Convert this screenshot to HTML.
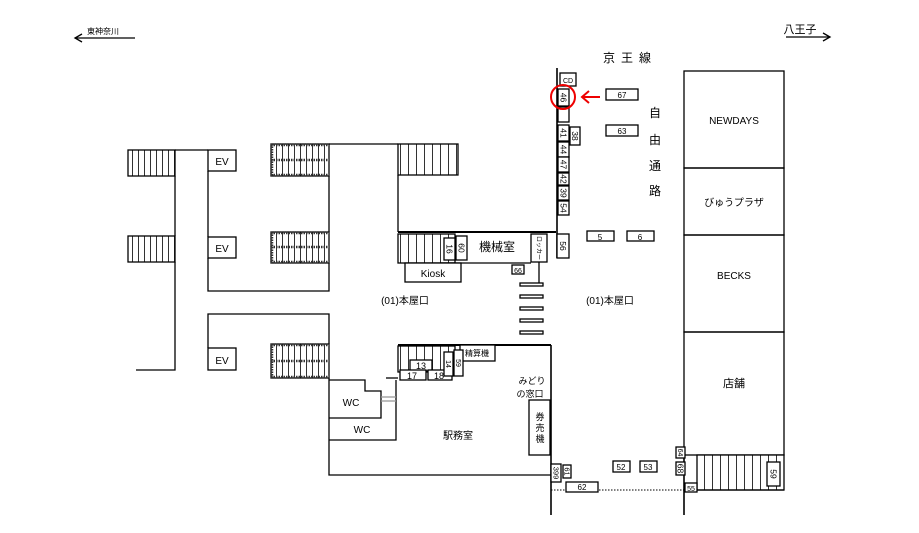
<!DOCTYPE html>
<html><head><meta charset="utf-8"><style>
html,body{margin:0;padding:0;background:#fff}
svg{display:block}
text{font-family:"Liberation Sans","Noto Sans CJK JP",sans-serif;fill:#000}
</style></head><body>
<svg width="919" height="533" viewBox="0 0 919 533" xmlns="http://www.w3.org/2000/svg">
<defs>
<pattern id="st" width="6" height="10" patternUnits="userSpaceOnUse"><rect width="6" height="10" fill="#fff"/><line x1="0.5" y1="0" x2="0.5" y2="10" stroke="#333" stroke-width="1"/></pattern>
<pattern id="st8" width="8" height="10" patternUnits="userSpaceOnUse"><rect width="8" height="10" fill="#fff"/><line x1="0.5" y1="0" x2="0.5" y2="10" stroke="#333" stroke-width="1"/></pattern>
</defs>
<g fill="none" stroke="#000" stroke-width="1.3">
<line x1="75" y1="38" x2="135" y2="38"/><polyline points="82,34 75,38 82,42"/>
<line x1="786" y1="37" x2="830" y2="37"/><polyline points="823,33 830,37 823,41"/>
<rect x="128" y="150" width="47" height="26" fill="url(#st)"/>
<rect x="128" y="236" width="47" height="26" fill="url(#st)"/>
<polyline points="175,150 208,150"/>
<polyline points="175,176 175,236"/>
<polyline points="175,262 175,370 136,370"/>
<rect x="208" y="150" width="28" height="21" fill="#fff"/>
<rect x="208" y="237" width="28" height="21" fill="#fff"/>
<polyline points="208,171 208,237"/>
<polyline points="208,258 208,291 329,291 329,263"/>
<polyline points="329,176 329,232"/>
<rect x="271" y="144" width="58" height="32" fill="url(#st)"/>
<rect x="271" y="232" width="58" height="31" fill="url(#st)"/>
<rect x="271" y="344" width="58" height="34" fill="url(#st)"/>
<polyline points="329,144 398,144"/>
<rect x="398" y="144" width="60" height="31" fill="url(#st8)"/>
<polyline points="398,175 398,232"/>
<line x1="398" y1="232" x2="556" y2="232" stroke-width="2"/>
<rect x="398" y="234" width="57" height="29" fill="url(#st8)"/>
<line x1="440" y1="263" x2="531" y2="263"/>
<rect x="405" y="263" width="56" height="19" fill="#fff"/>
<rect x="444" y="238" width="11" height="22" fill="#fff"/>
<rect x="456" y="236" width="11" height="24" fill="#fff"/>
<rect x="531" y="234" width="16" height="28" fill="#fff"/>
<line x1="539" y1="262" x2="539" y2="283"/>
<rect x="512" y="265" width="12" height="9" fill="#fff"/>
<rect x="520" y="283" width="23" height="3"/><rect x="520" y="295" width="23" height="3"/><rect x="520" y="307" width="23" height="3"/><rect x="520" y="319" width="23" height="3"/><rect x="520" y="331" width="23" height="3"/>
<polyline points="208,348 208,314 329,314 329,344"/>
<rect x="208" y="348" width="28" height="22" fill="#fff"/>
<polyline points="329,378 329,475 551,475"/>
<line x1="398" y1="345" x2="551" y2="345" stroke-width="2"/>
<rect x="398" y="346" width="57" height="26" fill="url(#st8)"/>
<rect x="460" y="345" width="35" height="16" fill="#fff"/>
<rect x="410" y="360" width="22" height="11" fill="#fff"/>
<rect x="400" y="370" width="26" height="10" fill="#fff"/>
<rect x="428" y="370" width="24" height="10" fill="#fff"/>
<rect x="444" y="352" width="9" height="24" fill="#fff"/>
<rect x="454" y="350" width="9" height="26" fill="#fff"/>
<polyline points="329,380 365,380 365,391 381,391 381,418 329,418"/>
<polyline points="329,440 396,440 396,380"/>
<line x1="381" y1="397" x2="396" y2="397" stroke="#999"/><line x1="381" y1="401" x2="396" y2="401" stroke="#999"/>
<line x1="386" y1="378" x2="398" y2="378"/>
<rect x="529" y="400" width="21" height="55" fill="#fff"/>
<line x1="557" y1="68" x2="557" y2="258" stroke-width="1.6"/>
<line x1="551" y1="345" x2="551" y2="515" stroke-width="1.6"/>
<line x1="684" y1="455" x2="684" y2="515" stroke-width="1.6"/>
<rect x="560" y="73" width="16" height="13" fill="#fff"/>
<rect x="558" y="89" width="11" height="17" fill="#fff"/>
<rect x="558" y="107" width="11" height="15" fill="#fff"/>
<rect x="558" y="125" width="11" height="16" fill="#fff"/>
<rect x="570" y="127" width="10" height="18" fill="#fff"/>
<rect x="558" y="142" width="11" height="15" fill="#fff"/>
<rect x="558" y="157" width="11" height="15" fill="#fff"/>
<rect x="558" y="173" width="11" height="12" fill="#fff"/>
<rect x="558" y="186" width="11" height="14" fill="#fff"/>
<rect x="558" y="201" width="11" height="14" fill="#fff"/>
<rect x="557" y="234" width="12" height="24" fill="#fff"/>
<rect x="606" y="89" width="32" height="11" fill="#fff"/>
<rect x="606" y="125" width="32" height="11" fill="#fff"/>
<rect x="587" y="231" width="27" height="10" fill="#fff"/>
<rect x="627" y="231" width="27" height="10" fill="#fff"/>
<rect x="684" y="71" width="100" height="97"/>
<rect x="684" y="168" width="100" height="67"/>
<rect x="684" y="235" width="100" height="97"/>
<rect x="684" y="332" width="100" height="123"/>
<rect x="697" y="455" width="87" height="35" fill="url(#st8)"/>
<line x1="684" y1="490" x2="784" y2="490"/>
<rect x="767" y="462" width="13" height="24" fill="#fff"/>
<rect x="676" y="447" width="9" height="11" fill="#fff"/>
<rect x="676" y="462" width="9" height="13" fill="#fff"/>
<rect x="685" y="483" width="12" height="9" fill="#fff"/>
<rect x="613" y="461" width="17" height="11" fill="#fff"/>
<rect x="640" y="461" width="17" height="11" fill="#fff"/>
<line x1="551" y1="490" x2="684" y2="490" stroke-dasharray="1.5 1.5" stroke-width="1"/>
<rect x="566" y="482" width="32" height="10" fill="#fff"/>
<rect x="551" y="464" width="10" height="18" fill="#fff"/>
<rect x="563" y="465" width="8" height="13" fill="#fff"/>
<circle cx="563" cy="97" r="12" stroke="#e00" stroke-width="2"/>
<line x1="600" y1="97" x2="582" y2="97" stroke="#e00" stroke-width="2"/>
<polyline points="589,91 582,97 589,103" stroke="#e00" stroke-width="2"/>
</g>
<g stroke="#333" stroke-width="2.5" stroke-dasharray="1.5 1">
<line x1="271" y1="145" x2="329" y2="145"/><line x1="271" y1="160" x2="329" y2="160"/><line x1="271" y1="175" x2="329" y2="175"/>
<line x1="271" y1="233" x2="329" y2="233"/><line x1="271" y1="247" x2="329" y2="247"/><line x1="271" y1="262" x2="329" y2="262"/>
<line x1="271" y1="345" x2="329" y2="345"/><line x1="271" y1="361" x2="329" y2="361"/><line x1="271" y1="377" x2="329" y2="377"/>
<line x1="272" y1="144" x2="272" y2="176"/><line x1="272" y1="232" x2="272" y2="263"/><line x1="272" y1="344" x2="272" y2="378"/>
</g>
<g font-size="10" text-anchor="middle">
<text x="103" y="34" font-size="8">東神奈川</text>
<text x="800" y="33" font-size="11">八王子</text>
<text x="630" y="62" font-size="12" letter-spacing="6">京王線</text>
<text x="655" y="117" font-size="12">自</text><text x="655" y="144" font-size="12">由</text><text x="655" y="170" font-size="12">通</text><text x="655" y="195" font-size="12">路</text>
<text x="222" y="165">EV</text><text x="222" y="252">EV</text><text x="222" y="364">EV</text>
<text x="497" y="251" font-size="12">機械室</text>
<text x="433" y="277" font-size="10">Kiosk</text>
<text x="518" y="273" font-size="7">66</text>
<text x="405" y="304" font-size="10">(01)本屋口</text>
<text x="610" y="304" font-size="10">(01)本屋口</text>
<text x="477" y="356" font-size="8">精算機</text>
<text x="421" y="369" font-size="9">13</text>
<text x="412" y="379" font-size="9">17</text>
<text x="439" y="379" font-size="9">18</text>
<text x="351" y="406" font-size="10">WC</text>
<text x="362" y="433" font-size="10">WC</text>
<text x="532" y="384" font-size="9">みどり</text>
<text x="530" y="397" font-size="9">の窓口</text>
<text x="540" y="420" font-size="9">券</text><text x="540" y="431" font-size="9">売</text><text x="540" y="442" font-size="9">機</text>
<text x="458" y="439" font-size="10">駅務室</text>
<text x="568" y="83" font-size="7">CD</text>
<text x="622" y="98" font-size="8">67</text>
<text x="622" y="134" font-size="8">63</text>
<text x="600" y="240" font-size="8">5</text>
<text x="640" y="240" font-size="8">6</text>
<text x="734" y="124" font-size="10">NEWDAYS</text>
<text x="734" y="206" font-size="10">びゅうプラザ</text>
<text x="734" y="279" font-size="10">BECKS</text>
<text x="734" y="387" font-size="11">店舗</text>
<text x="621" y="470" font-size="8">52</text>
<text x="648" y="470" font-size="8">53</text>
<text x="582" y="490" font-size="8">62</text>
</g>
<g font-size="8.5" text-anchor="middle">
<text transform="translate(560.5,97.5) rotate(90)">46</text>
<text transform="translate(560.5,133) rotate(90)">41</text>
<text transform="translate(572,136) rotate(90)">38</text>
<text transform="translate(560.5,149.5) rotate(90)">44</text>
<text transform="translate(560.5,164.5) rotate(90)">47</text>
<text transform="translate(560.5,179) rotate(90)">42</text>
<text transform="translate(560.5,193) rotate(90)">39</text>
<text transform="translate(560.5,208) rotate(90)">54</text>
<text transform="translate(560,246) rotate(90)">56</text>
<text transform="translate(446.5,249) rotate(90)">16</text>
<text transform="translate(458.5,248) rotate(90)">60</text>
<text transform="translate(537,248) rotate(90)" font-size="6">ロッカー</text>
<text transform="translate(446,364) rotate(90)" font-size="7">14</text>
<text transform="translate(456,363) rotate(90)" font-size="7">59</text>
<text transform="translate(553.5,473) rotate(90)" font-size="7.5">399</text>
<text transform="translate(564.5,471.5) rotate(90)" font-size="7.5">61</text>
<text transform="translate(678,452.5) rotate(90)" font-size="7">64</text>
<text transform="translate(677.5,468.5) rotate(90)">68</text>
<text transform="translate(770.5,474) rotate(90)">59</text>
<text x="691" y="491" font-size="7">55</text>
</g>
</svg>
</body></html>
